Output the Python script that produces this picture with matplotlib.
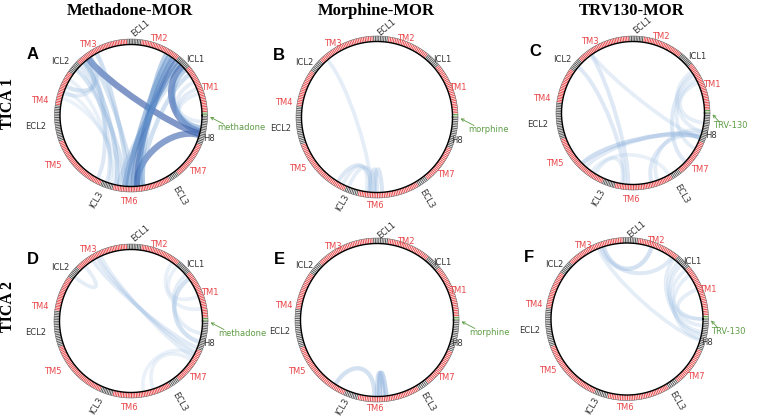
import matplotlib
matplotlib.use('Agg')
import matplotlib.pyplot as plt
import numpy as np
from matplotlib.path import Path
from matplotlib.patches import PathPatch
from matplotlib.collections import LineCollection
from matplotlib.colors import LinearSegmentedColormap

# receptor segments around the ring (degrees, counter-clockwise from 3 o'clock)
seg_names = ['H8', 'LIG', 'TM1', 'ICL1', 'TM2', 'ECL1', 'TM3', 'ICL2', 'TM4',
             'ECL2', 'TM5', 'ICL3', 'TM6', 'ECL3', 'TM7']
seg_start = [-23, 0, 2.5, 40, 51, 82, 93, 135, 145, 172, 200, 246, 256, 301, 309]
seg_end = [0, 2.5, 40, 51, 82, 93, 135, 145, 172, 200, 246, 256, 301, 309, 337]

col_titles = ['Methadone-MOR', 'Morphine-MOR', 'TRV130-MOR']
row_titles = ['TICA 1', 'TICA 2']
ligands = ['methadone', 'morphine', 'TRV-130']
letters = ['A', 'B', 'C', 'D', 'E', 'F']

# chords: (angle 1, angle 2, weight)
chords_A = [(-15, 127, 0.85), (-16, -85, 0.8), (-13, 44, 0.85), (-10, 40, 0.45),
            (50, -88, 0.65), (53, -85, 0.7), (57, -92, 0.55), (60, -82, 0.45),
            (47, -95, 0.6), (55, -80, 0.35), (35, -80, 0.3), (42, -100, 0.25),
            (132, -102, 0.35), (119, -93, 0.3), (140, -96, 0.25), (125, -88, 0.25),
            (128, -118, 0.2), (136, -110, 0.18), (156, 131, 0.25), (162, 125, 0.15),
            (160, -105, 0.06), (166, -98, 0.05), (150, -108, 0.08), (22, -10, 0.15),
            (28, -5, 0.12), (18, -15, 0.1)]
chords_B = [(131, -95, 0.12), (-121, -95, 0.2), (-112, -92, 0.12), (-117, -98, 0.12),
            (-92, -86, 0.22), (-96, -90, 0.18)]
chords_C = [(140, -97, 0.18), (126, -94, 0.18), (125, -21, 0.12), (225, -20, 0.32),
            (229, -18, 0.15), (32, -43, 0.18), (28, -30, 0.12), (35, -15, 0.12),
            (-20, -75, 0.18), (-15, -70, 0.12), (-122, -99, 0.12), (-125, -60, 0.08),
            (25, -8, 0.12)]
chords_D = [(118, -26, 0.18), (122, -22, 0.15), (115, -30, 0.12), (142, 130, 0.12),
            (36, -17, 0.28), (40, -10, 0.12), (55, 10, 0.08), (50, 20, 0.08),
            (-33, -72, 0.08), (-28, -80, 0.06)]
chords_E = [(-123, -92, 0.28), (-88, -83, 0.4), (-90, -85, 0.28)]
chords_F = [(108, 71, 0.28), (110, 54, 0.18), (112, -16, 0.12), (52, -10, 0.12),
            (48, -5, 0.12), (45, -12, 0.12), (40, 0, 0.1), (35, -15, 0.1),
            (23, 0, 0.12)]
chords = [chords_A, chords_B, chords_C, chords_D, chords_E, chords_F]

# layout (pixels): center x, center y, outer radius
panels = [(131, 115.5, 76.5), (377, 117, 81), (633, 113, 77),
          (131, 321, 77), (377, 320, 82), (627, 319, 81.5)]
lig_gap = [10, 10, 3, 10, 10, 3]
lab_names = ['TM3', 'ECL1', 'TM2', 'ICL1', 'TM1', 'H8', 'TM7', 'ECL3', 'TM6',
             'ICL3', 'TM5', 'ECL2', 'TM4', 'ICL2']
lab_ang = [121, 84, 70, 41.4, 19.8, -16.1, -40.1, -58.7, -91.3, -111.9, 212.9, 186.9, 170.9, 143]
lab_dist = [83.4, 88, 81.5, 85.4, 84, 81.2, 87.6, 94.2, 86.5, 91.1, 92.9, 95.7, 92.1, 88.9]
lab_rot = {'ECL1': 40, 'ICL3': 60, 'ECL3': -60}

RED = '#e8474a'
GREY = '#555555'
GREEN = '#5e9c45'
cmap = LinearSegmentedColormap.from_list('ch', ['#a9c8e8', '#4f86c6', '#1f3e95'])

fig = plt.figure(figsize=(7.59, 4.18), dpi=100)
ax = fig.add_axes([0, 0, 1, 1])
ax.set_xlim(0, 759)
ax.set_ylim(418, 0)
ax.set_aspect('equal')
ax.axis('off')


def draw_chord(cx, cy, r, a1, a2, w):
    t1, t2 = np.radians(a1), np.radians(a2)
    k = 0.6
    verts = [(cx + r * np.cos(t1), cy - r * np.sin(t1)),
             (cx + k * r * np.cos(t1), cy - k * r * np.sin(t1)),
             (cx + k * r * np.cos(t2), cy - k * r * np.sin(t2)),
             (cx + r * np.cos(t2), cy - r * np.sin(t2))]
    codes = [Path.MOVETO, Path.CURVE4, Path.CURVE4, Path.CURVE4]
    ax.add_patch(PathPatch(Path(verts, codes), fill=False, edgecolor=cmap(w),
                           alpha=0.18 + 0.5 * w, lw=2.4 + 2.6 * w, capstyle='butt'))


for p, (cx, cy, R) in enumerate(panels):
    rin = R - 5.5
    for a1, a2, w in chords[p]:
        draw_chord(cx, cy, rin - 0.5, a1, a2, w)

    # residue ticks
    segs, cols = [], []
    for name, s, e in zip(seg_names, seg_start, seg_end):
        n = max(2, int(round((e - s) / 1.25)))
        for a in np.linspace(s, e, n, endpoint=False) + (e - s) / n / 2:
            t = np.radians(a)
            segs.append([(cx + rin * np.cos(t), cy - rin * np.sin(t)),
                         (cx + R * np.cos(t), cy - R * np.sin(t))])
            if name == 'LIG':
                cols.append(GREEN)
            elif name.startswith('TM'):
                cols.append(RED)
            else:
                cols.append(GREY)
    ax.add_collection(LineCollection(segs, colors=cols, linewidths=0.7))
    th = np.linspace(0, 2 * np.pi, 400)
    ax.plot(cx + rin * np.cos(th), cy - rin * np.sin(th), color='black', lw=1.0)
    ax.plot(cx + R * np.cos(th), cy - R * np.sin(th), color='#666666', lw=0.4)

    # segment labels
    for name, a, d in zip(lab_names, lab_ang, lab_dist):
        t = np.radians(a)
        d = d + (R - 76.5) * 0.4
        x = cx + d * np.cos(t)
        y = cy - d * np.sin(t)
        ax.text(x, y, name, fontsize=6, ha='center', va='center',
                color=RED if name.startswith('TM') else '#333333',
                rotation=lab_rot.get(name, 0), family='DejaVu Sans')

    # ligand label with arrow
    tx = cx + R + lig_gap[p]
    ax.text(tx, cy + 12.5, ligands[p % 3], fontsize=6, ha='left', va='center',
            color=GREEN, family='DejaVu Sans')
    ax.annotate('', xy=(cx + R + 2.5, cy + 1.5), xytext=(tx + 6, cy + 8.5),
                arrowprops=dict(arrowstyle='->', color=GREEN, lw=0.6,
                                shrinkA=0, shrinkB=0, mutation_scale=5))

    # panel letter
    ax.text(cx - 98, cy - 61, letters[p], fontsize=12, fontweight='bold',
            ha='center', va='center', family='Liberation Sans')

for j, t in enumerate(col_titles):
    ax.text(panels[j][0] - 1, 11, t, fontsize=12, fontweight='bold',
            ha='center', va='center', family='Liberation Serif')
for i, t in enumerate(row_titles):
    ax.text(8.5, [103, 306.5][i], t, fontsize=11.5, fontweight='bold', rotation=90,
            ha='center', va='center', family='Liberation Serif')

fig.savefig('out.png', dpi=100)
